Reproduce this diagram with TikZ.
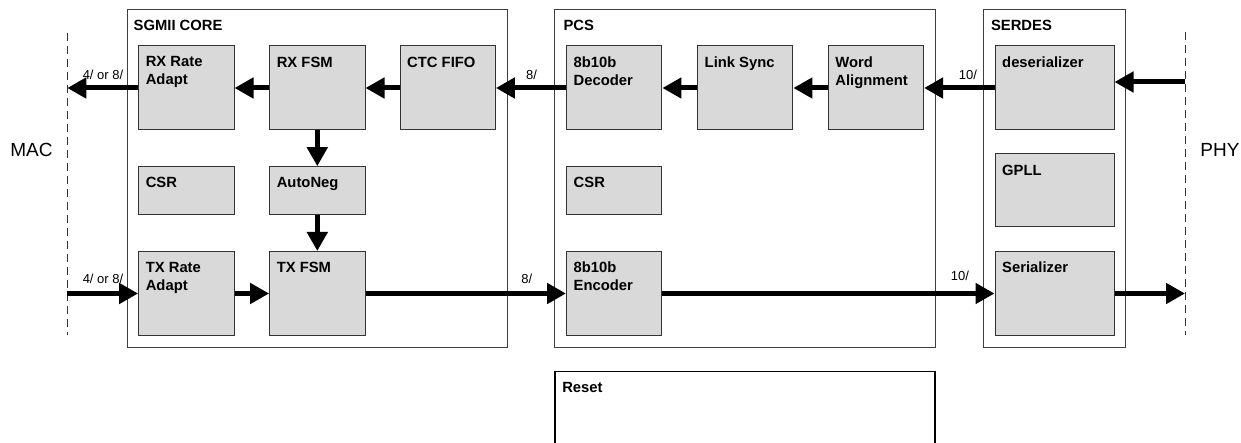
\documentclass[tikz,border=0pt]{standalone}
\usepackage{fontspec}
\setmainfont{Liberation Sans}
\usetikzlibrary{arrows.meta}
\definecolor{boxfill}{HTML}{D9D9D9}
\definecolor{boxline}{HTML}{333333}
\definecolor{contline}{HTML}{3F3F3F}
\begin{document}
\begin{tikzpicture}[x=1pt,y=-1pt,
  blk/.style={draw=boxline, fill=boxfill, line width=1pt, inner sep=0pt, minimum width=95.4pt, minimum height=84pt},
  smallblk/.style={minimum height=48.3pt},
  txt/.style={anchor=north west, inner sep=0pt, xshift=7.5pt, yshift=-11pt, align=left, font=\fontsize{14.8}{18}\selectfont\bfseries},
  cont/.style={draw=contline, line width=1pt, inner sep=0pt},
  ttl/.style={anchor=north west, inner sep=0pt, yshift=-11pt, font=\fontsize{14.8}{18}\selectfont\bfseries},
  arr/.style={line width=5pt, -{Triangle[length=19pt,width=20pt]}},
  lab/.style={font=\fontsize{13}{15}\selectfont, inner sep=0pt},
  side/.style={font=\fontsize{19}{22}\selectfont, inner sep=0pt},
  bound/.style={draw=boxline, line width=0.9pt, dash pattern=on 8pt off 5pt}]
\useasboundingbox (0,0) rectangle (1241,443);
\clip (0,0) rectangle (1241,443);

% containers
\node[cont, minimum width=380pt, minimum height=338pt, label={[ttl, xshift=7pt]north west:SGMII CORE}] (sgmii) at (317,178.3) {};
\node[cont, minimum width=380.4pt, minimum height=338pt, label={[ttl, xshift=9pt]north west:PCS}] (pcs) at (745,178.3) {};
\node[cont, minimum width=142.5pt, minimum height=338pt, label={[ttl, xshift=8pt]north west:SERDES}] (serdes) at (1054.55,178.3) {};
\node[draw=black, line width=1.5pt, inner sep=0pt, minimum width=380.2pt, minimum height=98.3pt, label={[ttl, xshift=8pt]north west:Reset}] (reset) at (744.9,420.85) {};

% blocks
\node[blk, label={[txt]north west:{RX Rate\\Adapt}}] (rxra) at (186.3,88) {};
\node[blk, label={[txt]north west:{RX FSM}}] (rxfsm) at (317.3,88) {};
\node[blk, label={[txt]north west:{CTC FIFO}}] (ctc) at (447.7,88) {};
\node[blk, label={[txt]north west:{8b10b\\Decoder}}] (dec) at (614.2,88) {};
\node[blk, label={[txt]north west:{Link Sync}}] (lsync) at (745.2,88) {};
\node[blk, label={[txt]north west:{Word\\Alignment}}] (walign) at (875.9,88) {};
\node[blk, minimum width=119pt, label={[txt]north west:{deserializer}}] (deser) at (1054.5,88) {};

\node[blk, smallblk, label={[txt]north west:{CSR}}] (csra) at (186.3,190.85) {};
\node[blk, smallblk, label={[txt]north west:{AutoNeg}}] (autoneg) at (317.3,190.85) {};
\node[blk, smallblk, label={[txt]north west:{CSR}}] (csrb) at (614.2,190.85) {};
\node[blk, minimum width=119pt, minimum height=72.7pt, label={[txt]north west:{GPLL}}] (gpll) at (1054.5,190.35) {};

\node[blk, label={[txt]north west:{TX Rate\\Adapt}}] (txra) at (186.3,293.5) {};
\node[blk, label={[txt]north west:{TX FSM}}] (txfsm) at (317.3,293.5) {};
\node[blk, label={[txt]north west:{8b10b\\Encoder}}] (enc) at (614.2,293.5) {};
\node[blk, minimum width=119pt, label={[txt]north west:{Serializer}}] (ser) at (1054.5,293.5) {};

% boundaries
\coordinate (mactop) at (67.3,33);
\coordinate (macbot) at (67.3,335);
\coordinate (phytop) at (1185,31.7);
\coordinate (phybot) at (1185,335);
\coordinate (macrx) at (67.3,88);
\coordinate (mactx) at (67.3,293.5);
\coordinate (phyrx) at (1185,82);
\coordinate (phytx) at (1185,293.5);
\draw[bound] (mactop) -- (macbot);
\draw[bound] (phytop) -- (phybot);
\node[side] (mac) at (31.4,149.5) {MAC};
\node[side] (phy) at (1220,149.5) {PHY};

% arrows
\draw[arr] (rxra.west) -- (macrx);
\draw[arr] (rxfsm.west) -- (rxra.east);
\draw[arr] (ctc.west) -- (rxfsm.east);
\draw[arr] (dec.west) -- (ctc.east);
\draw[arr] (lsync.west) -- (dec.east);
\draw[arr] (walign.west) -- (lsync.east);
\draw[arr] (deser.west) -- (walign.east);
\draw[arr] (phyrx) -- (phyrx -| deser.east);
\draw[arr] (rxfsm.south) -- (autoneg.north);
\draw[arr] (autoneg.south) -- (txfsm.north);
\draw[arr] (mactx) -- (txra.west);
\draw[arr] (txra.east) -- (txfsm.west);
\draw[arr] (txfsm.east) -- (enc.west);
\draw[arr] (enc.east) -- (ser.west);
\draw[arr] (ser.east) -- (phytx);

% bus width labels
\node[lab] (l1) at (103,75) {4/ or 8/};
\node[lab] (l2) at (531.5,75) {8/};
\node[lab] (l3) at (968,75) {10/};
\node[lab] (l4) at (103,279) {4/ or 8/};
\node[lab] (l5) at (526.7,279) {8/};
\node[lab] (l6) at (960,275.5) {10/};
\end{tikzpicture}
\end{document}
